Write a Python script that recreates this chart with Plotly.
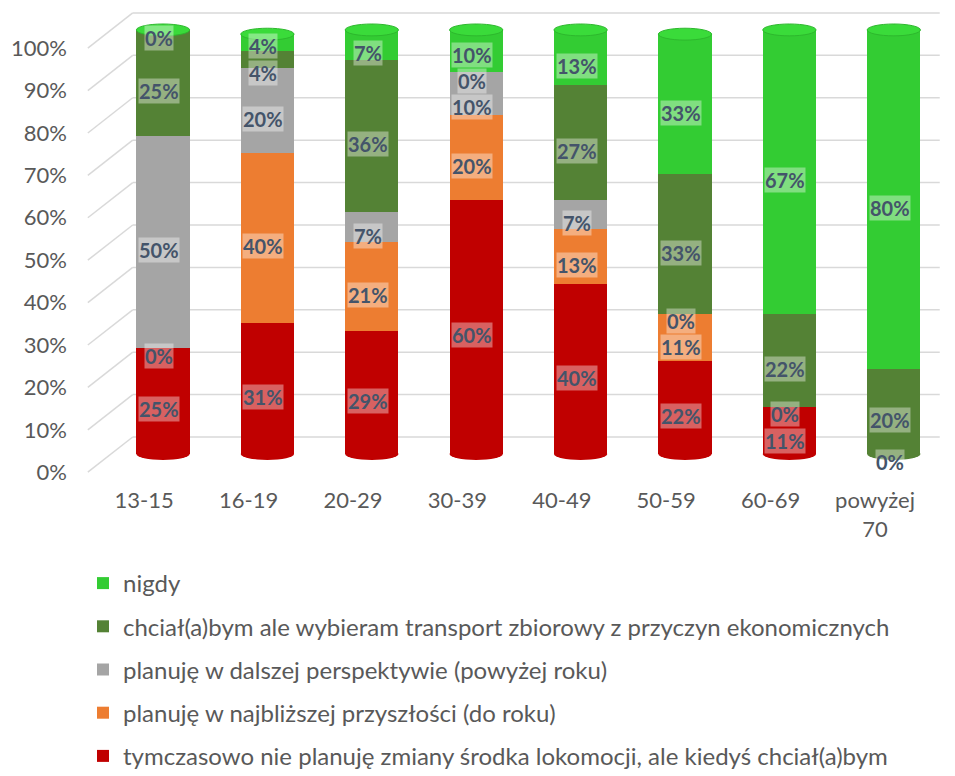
import plotly.graph_objects as go

categories = ["13-15", "16-19", "20-29", "30-39", "40-49", "50-59", "60-69", "powyżej<br>70"]

series_names = [
    "tymczasowo nie planuję zmiany środka lokomocji, ale kiedyś chciał(a)bym",
    "planuję w najbliższej przyszłości (do roku)",
    "planuję w dalszej perspektywie (powyżej roku)",
    "chciał(a)bym ale wybieram transport zbiorowy z przyczyn ekonomicznych",
    "nigdy",
]
red_vals = [25, 31, 29, 60, 40, 22, 11, 0]
orange_vals = [0, 40, 21, 20, 13, 11, 0, None]
gray_vals = [50, 20, 7, 10, 7, 0, None, None]
dkgreen_vals = [25, 4, 36, 0, 27, 33, 22, 20]
green_vals = [0, 4, 7, 10, 13, 33, 67, 80]
series_values = [red_vals, orange_vals, gray_vals, dkgreen_vals, green_vals]
colors = ["#C00000", "#ED7D31", "#A5A5A5", "#548235", "#33CC33"]
cap_color = "#3ADB3A"

y_ticks = [0, 10, 20, 30, 40, 50, 60, 70, 80, 90, 100]

FONT = "Lato"
LABEL_COLOR = "#44546A"
AXIS_TXT = "#595959"

BARGAP = 0.49
x_idx = list(range(len(categories)))
fig = go.Figure()
n_series = len(series_names)
for k, (name, vals, col) in enumerate(zip(series_names, series_values, colors)):
    fig.add_trace(go.Bar(
        x=x_idx, y=vals, name=name, marker=dict(color=col, line=dict(width=0)),
        legendrank=n_series - k, legendgroup=f"g{k}", hoverinfo="skip",
    ))

# data labels (centered in segments, pushed apart when too close)
label_drop = 2.0
min_gap = 6.2
annotations = []
shapes = []
half_w = (1 - BARGAP) / 2
cap_h = 1.4
for i in range(len(categories)):
    cum = 0
    labs = []
    bottom_col = None
    for vals, col in zip(series_values, colors):
        v = vals[i]
        if v is None:
            continue
        if bottom_col is None and v > 0:
            bottom_col = col
        labs.append([cum + v / 2 - label_drop, v])
        cum += v
    for _ in range(50):
        moved = False
        for a in range(len(labs) - 1):
            gap = labs[a + 1][0] - labs[a][0]
            if gap < min_gap:
                d = (min_gap - gap) / 2
                labs[a][0] -= d
                labs[a + 1][0] += d
                moved = True
        if not moved:
            break
    for yv, v in labs:
        annotations.append(dict(
            x=i, y=yv, xref="x", yref="y", text=f"<b>{v}%</b>", showarrow=False,
            font=dict(family=FONT, size=20, color=LABEL_COLOR),
            bgcolor="rgba(255,255,255,0.38)", borderpad=0, xshift=-4,
        ))
    # cylinder caps: rounded bottom and top ellipse
    shapes.append(dict(type="circle", xref="x", yref="y", x0=i - half_w, x1=i + half_w,
                       y0=-cap_h, y1=cap_h, fillcolor=bottom_col, line=dict(width=0),
                       layer="below"))
    shapes.append(dict(type="circle", xref="x", yref="y", x0=i - half_w, x1=i + half_w,
                       y0=cum - cap_h, y1=cum + cap_h, fillcolor=cap_color,
                       line=dict(color="#2DB82D", width=1)))

# perspective gridlines (back wall lines + slanted floor connectors)
back_off = 4.0
front_off = -4.3
x_front, x_back, x_end = -0.72, -0.29, 7.44
for t in y_ticks:
    shapes.append(dict(type="line", xref="x", yref="y", x0=x_back, x1=x_end,
                       y0=t + back_off, y1=t + back_off,
                       line=dict(color="#D9D9D9", width=1.5), layer="below"))
    shapes.append(dict(type="line", xref="x", yref="y", x0=x_front, x1=x_back,
                       y0=t + front_off, y1=t + back_off,
                       line=dict(color="#D9D9D9", width=1.5), layer="below"))

# invisible helper trace for the offset label axes
fig.add_trace(go.Scatter(x=[0], y=[0], xaxis="x2", yaxis="y2", mode="markers",
                         marker=dict(opacity=0), showlegend=False, hoverinfo="skip"))

W, H = 947, 768
xr = [-0.795, 7.5]
yr = [-5.43, 105.17]
x_shift = 0.18
fig.update_layout(
    width=W, height=H,
    margin=dict(l=72, r=9, t=0, b=299, pad=0, autoexpand=False),
    paper_bgcolor="white", plot_bgcolor="rgba(0,0,0,0)",
    barmode="stack", bargap=BARGAP,
    font=dict(family=FONT, size=22, color=AXIS_TXT),
    xaxis=dict(range=xr, showticklabels=False, showgrid=False, zeroline=False,
               fixedrange=True, automargin=False),
    yaxis=dict(range=yr, showticklabels=False, showgrid=False, zeroline=False,
               fixedrange=True, automargin=False),
    xaxis2=dict(range=[xr[0] + x_shift, xr[1] + x_shift], overlaying="x", anchor="y2",
                tickmode="array", tickvals=x_idx, ticktext=categories,
                showgrid=False, zeroline=False, showline=False, ticks="", automargin=False,
                ticklabelstandoff=8, tickfont=dict(family=FONT, size=22, color=AXIS_TXT)),
    yaxis2=dict(range=[yr[0] - front_off, yr[1] - front_off], overlaying="y", anchor="x2",
                side="left", tickmode="array", tickvals=y_ticks,
                ticktext=[f"{t}%" for t in y_ticks], automargin=False,
                showgrid=False, zeroline=False, showline=False, ticks="",
                ticklabelstandoff=12, tickfont=dict(family=FONT, size=22, color=AXIS_TXT)),
    legend=dict(orientation="v", traceorder="grouped", tracegroupgap=9,
                xref="container", yref="container",
                x=75 / W, xanchor="left", y=1 - 553 / H, yanchor="top",
                font=dict(family=FONT, size=24, color=AXIS_TXT),
                bgcolor="rgba(0,0,0,0)"),
    shapes=shapes, annotations=annotations,
    showlegend=True,
)

fig.write_html("out.html")
